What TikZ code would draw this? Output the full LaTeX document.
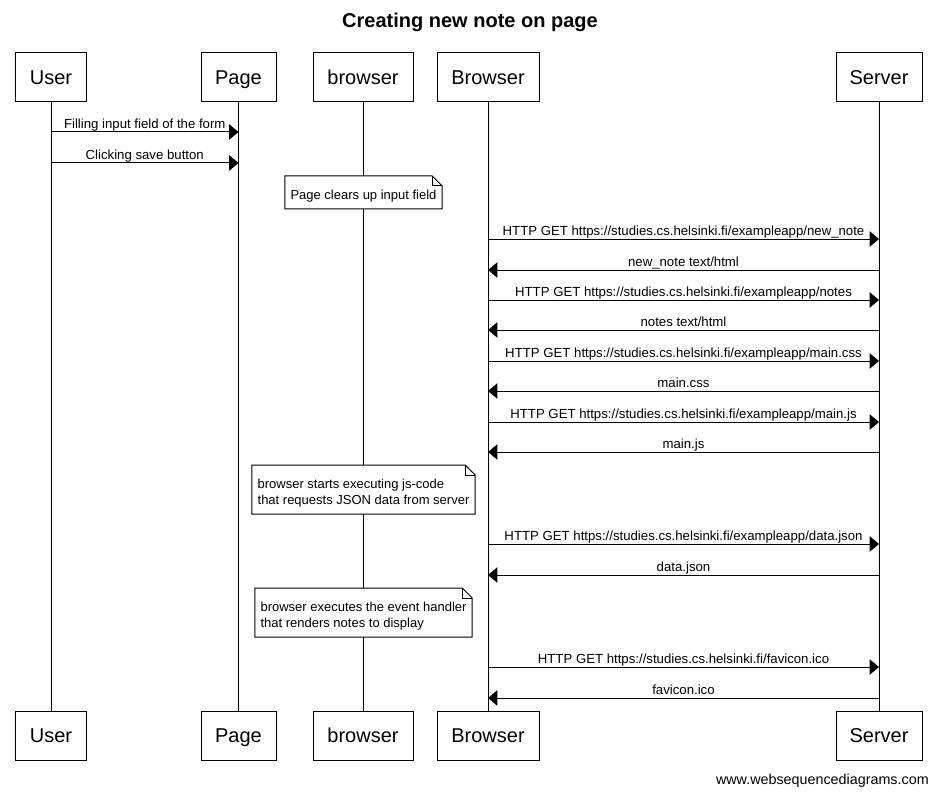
\documentclass[tikz,border=0pt]{standalone}
\usepackage{fontspec}
\setmainfont{Liberation Sans}
\usetikzlibrary{arrows.meta}
\pgfdeclarelayer{back}
\pgfsetlayers{back,main}
\begin{document}
\begin{tikzpicture}[x=0.75pt,y=-0.75pt,
  actor/.style={draw, line width=0.75pt, minimum height=36.75pt, inner sep=0pt,
                text height=12pt, text depth=1.9pt,
                font=\fontsize{15}{18}\selectfont},
  life/.style={line width=0.75pt},
  msg/.style={line width=0.75pt, -{Triangle[length=7pt,width=11.5pt]}},
  lbl/.style={anchor=base, yshift=2.6pt, inner sep=0pt, font=\fontsize{9.9}{12}\selectfont},
  notetext/.style={align=left, inner xsep=4.1pt, inner ysep=0pt,
                   font=\fontsize{9.75}{12}\selectfont},
  noteline/.style={line width=0.75pt, line join=miter, fill=white}
]
\useasboundingbox (0,0) rectangle (939,795);

% title
\node[font=\fontsize{15}{18}\selectfont\bfseries] (title) at (470,22) {Creating new note on page};

% participants, top row
\node[actor, minimum width=53.25pt] (uTop)  at (51,77.5)    {User};
\node[actor, minimum width=56.25pt] (pTop)  at (238.5,77.5) {Page};
\node[actor, minimum width=75pt]    (jsTop) at (363,77.5)   {browser};
\node[actor, minimum width=76.5pt]  (brTop) at (488,77.5)   {Browser};
\node[actor, minimum width=64.5pt]  (svTop) at (879,77.5)   {Server};

% participants, bottom row
\node[actor, minimum width=53.25pt] (uBot)  at (51,735.5)    {User};
\node[actor, minimum width=56.25pt] (pBot)  at (238.5,735.5) {Page};
\node[actor, minimum width=75pt]    (jsBot) at (363,735.5)   {browser};
\node[actor, minimum width=76.5pt]  (brBot) at (488,735.5)   {Browser};
\node[actor, minimum width=64.5pt]  (svBot) at (879,735.5)   {Server};

% lifelines
\begin{pgfonlayer}{back}
\draw[life] (uTop.south)  -- (uBot.north);
\draw[life] (pTop.south)  -- (pBot.north);
\draw[life] (jsTop.south) -- (jsBot.north);
\draw[life] (brTop.south) -- (brBot.north);
\draw[life] (svTop.south) -- (svBot.north);
\end{pgfonlayer}

% user actions
\draw[msg] (uTop.south |- 0,132) -- (pTop.south |- 0,132)
  node[lbl, midway] {Filling input field of the form};
\draw[msg] (uTop.south |- 0,163) -- (pTop.south |- 0,163)
  node[lbl, midway] {Clicking save button};

% requests and responses
\draw[msg] (brTop.south |- 0,239) -- (svTop.south |- 0,239)
  node[lbl, midway] {HTTP GET https://studies.cs.helsinki.fi/exampleapp/new\_note};
\draw[msg] (svTop.south |- 0,270) -- (brTop.south |- 0,270)
  node[lbl, midway] {new\_note text/html};
\draw[msg] (brTop.south |- 0,300) -- (svTop.south |- 0,300)
  node[lbl, midway] {HTTP GET https://studies.cs.helsinki.fi/exampleapp/notes};
\draw[msg] (svTop.south |- 0,330) -- (brTop.south |- 0,330)
  node[lbl, midway] {notes text/html};
\draw[msg] (brTop.south |- 0,361) -- (svTop.south |- 0,361)
  node[lbl, midway] {HTTP GET https://studies.cs.helsinki.fi/exampleapp/main.css};
\draw[msg] (svTop.south |- 0,391) -- (brTop.south |- 0,391)
  node[lbl, midway] {main.css};
\draw[msg] (brTop.south |- 0,422) -- (svTop.south |- 0,422)
  node[lbl, midway] {HTTP GET https://studies.cs.helsinki.fi/exampleapp/main.js};
\draw[msg] (svTop.south |- 0,452) -- (brTop.south |- 0,452)
  node[lbl, midway] {main.js};
\draw[msg] (brTop.south |- 0,544) -- (svTop.south |- 0,544)
  node[lbl, midway] {HTTP GET https://studies.cs.helsinki.fi/exampleapp/data.json};
\draw[msg] (svTop.south |- 0,575) -- (brTop.south |- 0,575)
  node[lbl, midway] {data.json};
\draw[msg] (brTop.south |- 0,667) -- (svTop.south |- 0,667)
  node[lbl, midway] {HTTP GET https://studies.cs.helsinki.fi/favicon.ico};
\draw[msg] (svTop.south |- 0,698) -- (brTop.south |- 0,698)
  node[lbl, midway] {favicon.ico};

% notes on the browser lifeline: text first, frame behind it
\node[notetext] (n1) at (363.5,196.5) {Page clears up input field};
\node[notetext] (n2) at (363.5,493.5)
  {browser starts executing js-code\\that requests JSON data from server};
\node[notetext] (n3) at (363.5,616.5)
  {browser executes the event handler\\that renders notes to display};
\begin{pgfonlayer}{back}
\foreach \n/\top/\bot in {n1/176/209, n2/465/514, n3/588/637}{
  \draw[noteline] (\n.west |- 0,\bot) -- (\n.west |- 0,\top)
    -- ([xshift=-7.5pt]\n.east |- 0,\top) -- ([yshift=-7.5pt]\n.east |- 0,\top)
    -- (\n.east |- 0,\bot) -- cycle;
  \draw[noteline, fill=none] ([xshift=-7.5pt]\n.east |- 0,\top)
    |- ([yshift=-7.5pt]\n.east |- 0,\top);
}
\end{pgfonlayer}

% footer
\node[anchor=base east, inner sep=0pt, font=\fontsize{10.75}{13}\selectfont] (footer)
  at (929,784) {www.websequencediagrams.com};
\end{tikzpicture}
\end{document}
